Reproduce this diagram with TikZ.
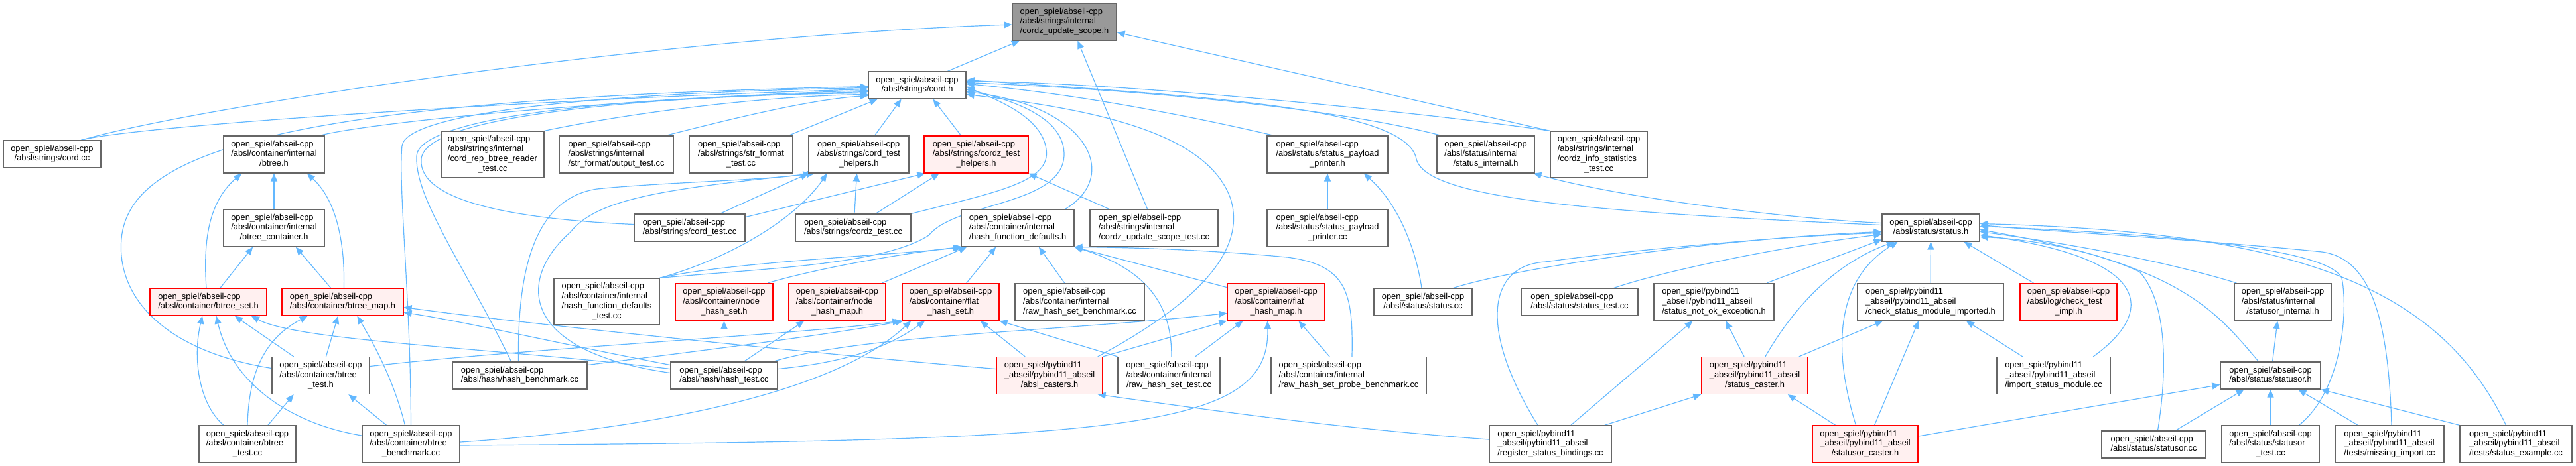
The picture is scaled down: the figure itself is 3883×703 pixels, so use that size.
\documentclass[tikz,border=0pt]{standalone}
\usepackage{fontspec}
\setmainfont{Liberation Sans}
\usetikzlibrary{arrows.meta,backgrounds}
\definecolor{edgec}{HTML}{63B8FF}
\definecolor{nodeb}{HTML}{666666}
\definecolor{topf}{HTML}{999999}
\definecolor{redf}{HTML}{FFF0F0}
\newcommand\lab[2]{\begin{tabular}{@{}l@{}}#1\\\multicolumn{1}{@{}c@{}}{#2}\end{tabular}}
\newcommand\mynode[7]{\node[#2, minimum width=#5bp, minimum height=#6bp] (#1) at (#3,#4) {#7};}
\newcommand\osa{open\_spiel/abseil-cpp}
\newcommand\osp{open\_spiel/pybind11\\\_abseil/pybind11\_abseil}
\begin{document}
\begin{tikzpicture}[x=1bp, y=-1bp,
  nbox/.style={draw=nodeb, fill=white, line width=1.2bp, inner sep=0pt, font=\fontsize{12.9}{15}\selectfont},
  rbox/.style={nbox, draw=red, fill=redf},
  gbox/.style={nbox, fill=topf},
  edg/.style={draw=edgec, line width=1.2bp, -{Triangle[length=12bp,width=10bp]}}]
\useasboundingbox (0,0) rectangle (3883,703);
% row 0-1
\mynode{top}{gbox}{1604.5}{33}{157}{56}{\lab{\osa\\/absl/strings/internal}{/cordz\_update\_scope.h}}
\mynode{cordh}{nbox}{1382.5}{128.5}{147}{41}{\lab{\osa}{/absl/strings/cord.h}}
% row 2
\mynode{cordcc}{nbox}{78.5}{232.5}{147}{41}{\lab{\osa}{/absl/strings/cord.cc}}
\mynode{btreeh}{nbox}{413}{233}{152}{56}{\lab{\osa\\/absl/container/internal}{/btree.h}}
\mynode{cordrep}{nbox}{742.5}{233}{155}{70}{\lab{\osa\\/absl/strings/internal\\/cord\_rep\_btree\_reader}{\_test.cc}}
\mynode{outtest}{nbox}{929}{233}{172}{56}{\lab{\osa\\/absl/strings/internal}{/str\_format/output\_test.cc}}
\mynode{strfmt}{nbox}{1117}{233}{156}{56}{\lab{\osa\\/absl/strings/str\_format}{\_test.cc}}
\mynode{cth}{nbox}{1294.5}{233}{151}{56}{\lab{\osa\\/absl/strings/cord\_test}{\_helpers.h}}
\mynode{czth}{rbox}{1471.5}{233}{157}{56}{\lab{\osa\\/absl/strings/cordz\_test}{\_helpers.h}}
\mynode{sppH}{nbox}{2001}{233}{182}{56}{\lab{\osa\\/absl/status/status\_payload}{\_printer.h}}
\mynode{sint}{nbox}{2239.5}{233}{147}{56}{\lab{\osa\\/absl/status/internal}{/status\_internal.h}}
\mynode{czinfo}{nbox}{2410}{233}{146}{70}{\lab{\osa\\/absl/strings/internal\\/cordz\_info\_statistics}{\_test.cc}}
% row 3
\mynode{btreecont}{nbox}{413}{344}{152}{56}{\lab{\osa\\/absl/container/internal}{/btree\_container.h}}
\mynode{cordtest}{nbox}{1039.5}{343.5}{167}{41}{\lab{\osa}{/absl/strings/cord\_test.cc}}
\mynode{cordztest}{nbox}{1286}{343.5}{174}{41}{\lab{\osa}{/absl/strings/cordz\_test.cc}}
\mynode{hfd}{nbox}{1534}{344}{170}{56}{\lab{\osa\\/absl/container/internal}{/hash\_function\_defaults.h}}
\mynode{czust}{nbox}{1739.5}{344}{193}{56}{\lab{\osa\\/absl/strings/internal}{/cordz\_update\_scope\_test.cc}}
\mynode{sppcc}{nbox}{2001}{344}{182}{56}{\lab{\osa\\/absl/status/status\_payload}{\_printer.cc}}
\mynode{statush}{nbox}{2910.5}{343.5}{147}{41}{\lab{\osa}{/absl/status/status.h}}
% row 4
\mynode{btreeset}{rbox}{314}{455.5}{176}{41}{\lab{\osa}{/absl/container/btree\_set.h}}
\mynode{btreemap}{rbox}{516.5}{455.5}{183}{41}{\lab{\osa}{/absl/container/btree\_map.h}}
\mynode{hfdtest}{nbox}{914.5}{455}{159}{70}{\lab{\osa\\/absl/container/internal\\/hash\_function\_defaults}{\_test.cc}}
\mynode{nhs}{rbox}{1091.5}{455.5}{147}{56}{\lab{\osa\\/absl/container/node}{\_hash\_set.h}}
\mynode{nhm}{rbox}{1262}{455.5}{146}{56}{\lab{\osa\\/absl/container/node}{\_hash\_map.h}}
\mynode{fhs}{rbox}{1433}{455.5}{146}{56}{\lab{\osa\\/absl/container/flat}{\_hash\_set.h}}
\mynode{rhsb}{nbox}{1627.5}{455.5}{195}{56}{\lab{\osa\\/absl/container/internal}{/raw\_hash\_set\_benchmark.cc}}
\mynode{fhm}{rbox}{1923.5}{455.5}{147}{56}{\lab{\osa\\/absl/container/flat}{\_hash\_map.h}}
\mynode{statuscc}{nbox}{2145}{455.5}{148}{41}{\lab{\osa}{/absl/status/status.cc}}
\mynode{statustest}{nbox}{2381}{455.5}{176}{41}{\lab{\osa}{/absl/status/status\_test.cc}}
\mynode{snoe}{nbox}{2583.5}{455.5}{181}{56}{\lab{\osp}{/status\_not\_ok\_exception.h}}
\mynode{csmi}{nbox}{2910}{455.5}{220}{56}{\lab{\osp}{/check\_status\_module\_imported.h}}
\mynode{cti}{rbox}{3118}{455.5}{146}{56}{\lab{\osa\\/absl/log/check\_test}{\_impl.h}}
\mynode{soint}{nbox}{3441}{455.5}{146}{56}{\lab{\osa\\/absl/status/internal}{/statusor\_internal.h}}
% row 5
\mynode{btreetesth}{nbox}{483.5}{566.5}{147}{56}{\lab{\osa\\/absl/container/btree}{\_test.h}}
\mynode{hashbench}{nbox}{783.5}{566.5}{203}{41}{\lab{\osa}{/absl/hash/hash\_benchmark.cc}}
\mynode{hashtest}{nbox}{1091.5}{566.5}{161}{41}{\lab{\osa}{/absl/hash/hash\_test.cc}}
\mynode{abslc}{rbox}{1582}{566.5}{160}{56}{\lab{\osp}{/absl\_casters.h}}
\mynode{rhst}{nbox}{1762}{566.5}{154}{56}{\lab{\osa\\/absl/container/internal}{/raw\_hash\_set\_test.cc}}
\mynode{rhspb}{nbox}{2033}{566.5}{234}{56}{\lab{\osa\\/absl/container/internal}{/raw\_hash\_set\_probe\_benchmark.cc}}
\mynode{scaster}{rbox}{2645}{566.5}{160}{56}{\lab{\osp}{/status\_caster.h}}
\mynode{ism}{nbox}{3095.5}{566.5}{171}{56}{\lab{\osp}{/import\_status\_module.cc}}
\mynode{statusorh}{nbox}{3422.5}{566.5}{151}{41}{\lab{\osa}{/absl/status/statusor.h}}
% row 6
\mynode{btreetestcc}{nbox}{373}{670}{146}{56}{\lab{\osa\\/absl/container/btree}{\_test.cc}}
\mynode{btreebench}{nbox}{619.5}{670}{147}{56}{\lab{\osa\\/absl/container/btree}{\_benchmark.cc}}
\mynode{rsb}{nbox}{2337}{670}{184}{56}{\lab{\osp}{/register\_status\_bindings.cc}}
\mynode{socaster}{rbox}{2811.5}{670}{159}{56}{\lab{\osp}{/statusor\_caster.h}}
\mynode{statusorcc}{nbox}{3246.5}{670.5}{157}{41}{\lab{\osa}{/absl/status/statusor.cc}}
\mynode{statusortest}{nbox}{3422.5}{670}{147}{56}{\lab{\osa\\/absl/status/statusor}{\_test.cc}}
\mynode{missimp}{nbox}{3602}{670}{164}{56}{\lab{\osp}{/tests/missing\_import.cc}}
\mynode{statex}{nbox}{3792.5}{670}{169}{56}{\lab{\osp}{/tests/status\_example.cc}}

\begin{pgfonlayer}{background}
% to top
\draw[edg] ([xshift=46]cordh.north) -- ([xshift=-68]top.south);
\draw[edg] ([xshift=44]cordcc.north) .. controls (300,160) and (1000,55) .. ([yshift=-4]top.west);
\draw[edg] ([xshift=-10]czust.north) -- ([xshift=20]top.south);
\draw[edg] (czinfo.north west) -- ([yshift=-16]top.east);
% to cord.h, left side
\draw[edg] ([xshift=44]cordcc.north) .. controls (200,190) and (800,150) .. ([yshift=-6]cordh.west);
\draw[edg] ([xshift=69]btreeh.north) .. controls (560,185) and (900,150) .. ([yshift=-10]cordh.west);
\draw[edg] ([yshift=11]btreetesth.west) .. controls (250,530) and (175,450) .. (183,360) .. controls (195,230) and (420,150) .. ([yshift=-2]cordh.west);
\draw[edg] (cordrep.north east) .. controls (950,170) and (1150,145) .. ([yshift=-14]cordh.west);
\draw[edg] ([xshift=75]outtest.north) .. controls (1100,180) and (1220,150) .. ([yshift=-16]cordh.west);
\draw[edg] ([yshift=5]cordtest.west) .. controls (760,330) and (630,300) .. (635,240) .. controls (640,180) and (900,150) .. ([yshift=-8]cordh.west);
\draw[edg] (btreebench.north) .. controls (619,450) and (600,280) .. (606,220) .. controls (612,170) and (900,140) .. ([yshift=-4]cordh.west);
\draw[edg] ([xshift=-13]hashbench.north) .. controls (700,400) and (625,300) .. (628,235) .. controls (632,180) and (900,145) .. ([yshift=-12]cordh.west);
% to cord.h, bottom
\draw[edg] ([xshift=72]strfmt.north) -- ([xshift=-60]cordh.south);
\draw[edg] ([xshift=24]cth.north) -- ([xshift=-24]cordh.south);
\draw[edg] ([xshift=-23]czth.north) -- ([xshift=24]cordh.south);
% to cord.h, right side
\draw[edg] ([xshift=72]hfd.north) .. controls (1690,265) and (1640,160) .. ([yshift=-10]cordh.east);
\draw[edg] (hfdtest.north east) .. controls (1150,405) and (1330,400) .. (1400,355) .. controls (1440,305) and (1600,310) .. (1604,235) .. controls (1606,175) and (1520,150) .. ([yshift=-6]cordh.east);
\draw[edg] (cordztest.north east) .. controls (1500,290) and (1585,275) .. (1577,225) .. controls (1570,175) and (1500,150) .. ([yshift=-2]cordh.east);
\draw[edg] ([xshift=-81]sppH.north) .. controls (1750,165) and (1600,140) .. ([yshift=2]cordh.east);
\draw[edg] ([xshift=-67]sint.north) .. controls (2000,160) and (1700,135) .. ([yshift=4]cordh.east);
\draw[edg] (czinfo.north west) .. controls (2150,170) and (1700,125) .. ([yshift=6]cordh.east);
\draw[edg] ([yshift=4]statush.west) .. controls (2400,320) and (2150,300) .. (2135,240) .. controls (2120,160) and (1800,145) .. ([yshift=8]cordh.east);
\draw[edg] ([xshift=73]abslc.north) .. controls (1800,460) and (1880,380) .. (1855,300) .. controls (1820,200) and (1650,165) .. ([yshift=-14]cordh.east);
% btree family
\draw[edg] (btreecont) -- (btreeh);
\draw[edg] ([xshift=-3]btreeset.north) .. controls (305,350) and (320,300) .. ([xshift=-49]btreeh.south);
\draw[edg] ([xshift=2]btreemap.north) .. controls (520,360) and (505,300) .. ([xshift=50]btreeh.south);
\draw[edg] ([xshift=18]btreeset.north) -- ([xshift=-32]btreecont.south);
\draw[edg] ([xshift=-18]btreemap.north) -- ([xshift=33]btreecont.south);
\draw[edg] ([xshift=-36]btreetestcc.north) .. controls (300,610) and (290,540) .. ([xshift=-9]btreeset.south);
\draw[edg] ([yshift=13]btreebench.west) .. controls (440,640) and (350,580) .. ([xshift=12]btreeset.south);
\draw[edg] ([xshift=-41]btreetesth.north) -- ([xshift=40]btreeset.south);
\draw[edg] ([yshift=10]hashtest.west) .. controls (750,525) and (450,515) .. ([xshift=65]btreeset.south);
\draw[edg] (btreetestcc.north) .. controls (375,560) and (400,510) .. ([xshift=-53]btreemap.south);
\draw[edg] ([xshift=8]btreetesth.north) -- ([xshift=-7]btreemap.south);
\draw[edg] ([xshift=-9]btreebench.north) .. controls (595,580) and (570,530) .. ([xshift=22]btreemap.south);
\draw[edg] ([yshift=16]hashtest.west) .. controls (850,520) and (700,485) .. ([yshift=-16]btreemap.east);
\draw[edg] ([yshift=10]abslc.west) .. controls (1300,540) and (800,490) .. ([yshift=-8]btreemap.east);
\draw[edg] ([xshift=31]btreetestcc.north) -- ([xshift=-41]btreetesth.south);
\draw[edg] ([xshift=-37]btreebench.north) -- ([xshift=42]btreetesth.south);
% cord_test_helpers
\draw[edg] ([xshift=46]cordtest.north) -- (cth.south west);
\draw[edg] ([xshift=2]cordztest.north) -- ([xshift=-3]cth.south);
\draw[edg] ([xshift=-2]hashbench.north) .. controls (780,420) and (800,300) .. (900,285) .. controls (1000,275) and (1150,272) .. ([xshift=4]cth.south west);
\draw[edg] ([yshift=4]hashtest.west) .. controls (780,530) and (780,420) .. (860,350) .. controls (900,300) and (1000,285) .. ([xshift=10]cth.south west);
\draw[edg] (hfdtest.north east) .. controls (1100,390) and (1200,330) .. ([xshift=-48]cth.south);
% cordz_test_helpers
\draw[edg] ([yshift=16]cordtest.east) -- ([xshift=2]czth.south west);
\draw[edg] ([xshift=34]cordztest.north) -- ([xshift=-56]czth.south);
\draw[edg] ([xshift=-68]czust.north) -- (czth.south east);
% hash_function_defaults
\draw[edg] ([xshift=66]nhs.north) .. controls (1250,400) and (1380,380) .. (hfd.south west);
\draw[edg] (hfdtest.north east) .. controls (1100,395) and (1350,385) .. ([xshift=3]hfd.south west);
\draw[edg] ([xshift=68]nhm.north) -- ([xshift=-77]hfd.south);
\draw[edg] ([xshift=24]fhs.north) -- ([xshift=-33]hfd.south);
\draw[edg] ([xshift=-23]rhsb.north) -- ([xshift=32]hfd.south);
\draw[edg] ([xshift=4]rhst.north) .. controls (1766,470) and (1740,410) .. (hfd.south east);
\draw[edg] ([yshift=22]fhm.west) -- (hfd.south east);
\draw[edg] ([xshift=5]rhspb.north) .. controls (2040,440) and (2030,400) .. (1940,388) .. controls (1800,375) and (1680,373) .. (hfd.south east);
% node_hash
\draw[edg] (hashtest) -- (nhs);
\draw[edg] ([xshift=30]hashtest.north) -- ([xshift=-50]nhm.south);
% flat_hash_set
\draw[edg] ([yshift=16]hashbench.east) .. controls (1050,530) and (1250,505) .. ([xshift=2]fhs.south west);
\draw[edg] ([yshift=10]hashtest.east) .. controls (1260,548) and (1330,530) .. ([xshift=-39]fhs.south);
\draw[edg] ([yshift=14]btreetesth.east) .. controls (800,525) and (1200,505) .. ([xshift=-2]fhs.south west);
\draw[edg] ([yshift=3]btreebench.east) .. controls (950,650) and (1250,600) .. ([xshift=-60]fhs.south);
\draw[edg] ([xshift=-37]abslc.north) -- ([xshift=45]fhs.south);
\draw[edg] (rhst.north west) -- (fhs.south east);
% flat_hash_map
\draw[edg] ([xshift=74]hashtest.north) .. controls (1300,505) and (1600,500) .. ([yshift=-17]fhm.west);
\draw[edg] ([yshift=-2]btreebench.east) .. controls (1700,665) and (1915,650) .. ([xshift=-13]fhm.south);
\draw[edg] (abslc.north east) -- (fhm.south west);
\draw[edg] ([xshift=40]rhst.north) -- ([xshift=-50]fhm.south);
\draw[edg] ([xshift=-29]rhspb.north) -- ([xshift=34]fhm.south);
% absl_casters
\draw[edg] ([yshift=7]rsb.west) .. controls (2000,645) and (1800,615) .. ([xshift=-8]abslc.south east);
% status
\draw[edg] ([yshift=7]statush.west) .. controls (2700,330) and (2450,300) .. ([xshift=-2]sint.south east);
\draw[edg] ([xshift=-2]statuscc.north) .. controls (2135,380) and (2110,310) .. ([xshift=55]sppH.south);
\draw[edg] (sppcc) -- (sppH);
\draw[edg] ([xshift=46]statuscc.north) .. controls (2300,400) and (2600,360) .. ([yshift=-6]statush.west);
\draw[edg] ([xshift=52]statustest.north) .. controls (2520,405) and (2700,370) .. ([yshift=-10]statush.west);
\draw[edg] ([xshift=-19]rsb.north) .. controls (2230,500) and (2240,400) .. (2330,395) .. controls (2450,378) and (2700,355) .. ([yshift=-8]statush.west);
\draw[edg] ([xshift=80]snoe.north) -- ([yshift=-18]statush.west);
\draw[edg] ([xshift=16]scaster.north) .. controls (2700,470) and (2760,400) .. ([xshift=-55]statush.south);
\draw[edg] ([xshift=-14]socaster.north) .. controls (2760,520) and (2770,420) .. ([xshift=-50]statush.south);
\draw[edg] (csmi) -- (statush);
\draw[edg] ([xshift=-53]cti.north) -- ([xshift=50]statush.south);
\draw[edg] ([xshift=60]ism.north) .. controls (3250,470) and (3245,390) .. ([yshift=-11]statush.east);
\draw[edg] ([xshift=-70]soint.north) .. controls (3250,390) and (3100,365) .. ([yshift=-6]statush.east);
\draw[edg] ([xshift=-18]statusorh.north) .. controls (3340,470) and (3290,400) .. ([yshift=-3]statush.east);
\draw[edg] ([xshift=6]statusorcc.north) .. controls (3270,540) and (3262,450) .. (3225,410) .. controls (3150,375) and (3050,360) .. ([yshift=-14]statush.east);
\draw[edg] ([xshift=43]statusortest.north) .. controls (3530,590) and (3540,470) .. (3530,420) .. controls (3510,370) and (3200,350) .. ([yshift=2]statush.east);
\draw[edg] ([xshift=3]missimp.north) .. controls (3600,470) and (3570,390) .. (3500,380) .. controls (3300,360) and (3100,350) .. ([yshift=4]statush.east);
\draw[edg] ([xshift=-15]statex.north) .. controls (3680,440) and (3480,350) .. ([yshift=6]statush.east);
% statusor.h
\draw[edg] ([yshift=12]socaster.east) -- ([yshift=-14]statusorh.west);
\draw[edg] ([xshift=33]statusorcc.north) -- ([xshift=-40]statusorh.south);
\draw[edg] (statusortest) -- (statusorh);
\draw[edg] ([xshift=-48]missimp.north) -- ([xshift=42]statusorh.south);
\draw[edg] (statex.north west) -- (statusorh.south east);
\draw[edg] ([xshift=3]statusorh.north) -- ([xshift=-8]soint.south);
% pybind11 headers
\draw[edg] ([xshift=-16]scaster.north) -- ([xshift=18]snoe.south);
\draw[edg] ([xshift=31]rsb.north) -- ([xshift=-32]snoe.south);
\draw[edg] ([xshift=82]rsb.north) -- (scaster.south west);
\draw[edg] ([xshift=-45]socaster.north) -- ([xshift=50]scaster.south);
\draw[edg] ([xshift=67]scaster.north) -- ([xshift=-72]csmi.south);
\draw[edg] ([xshift=14]socaster.north) -- ([xshift=-18]csmi.south);
\draw[edg] ([xshift=-47]ism.north) -- ([xshift=54]csmi.south);
\end{pgfonlayer}
\end{tikzpicture}
\end{document}
